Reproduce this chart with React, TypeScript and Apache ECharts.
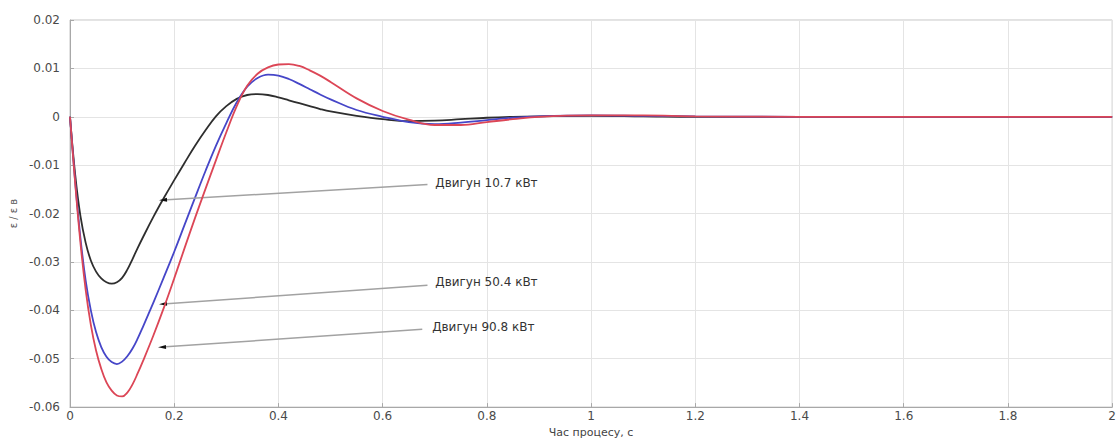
import React, { useEffect, useRef } from "react";
import * as echarts from "echarts";

// ---- Data ----
const timeS = [0, 0.01, 0.02, 0.03, 0.04, 0.05, 0.06, 0.07, 0.08, 0.09, 0.1, 0.11, 0.12, 0.13, 0.14, 0.16, 0.18, 0.2, 0.22, 0.24, 0.26, 0.28, 0.3, 0.32, 0.34, 0.36, 0.38, 0.4, 0.42, 0.44, 0.46, 0.48, 0.5, 0.55, 0.6, 0.65, 0.7, 0.75, 0.8, 0.85, 0.9, 1.0, 1.1, 1.2, 1.4, 1.6, 1.8, 2.0];

const motor10_7 = [0, -0.012, -0.0205, -0.026, -0.0297, -0.032, -0.0334, -0.0342, -0.0345, -0.0342, -0.0333, -0.0316, -0.0294, -0.0271, -0.0249, -0.0207, -0.0168, -0.0131, -0.0095, -0.006, -0.0028, 0.0001, 0.0022, 0.0037, 0.0045, 0.0047, 0.0045, 0.004, 0.0034, 0.0028, 0.0022, 0.0016, 0.0011, 0.0002, -0.0005, -0.0009, -0.0008, -0.0005, -0.0002, 0, 0.0001, 0.0002, 0.0001, 0, 0, 0, 0, 0];

const motor50_4 = [0, -0.0135, -0.025, -0.0338, -0.04, -0.0445, -0.0476, -0.0496, -0.0507, -0.0511, -0.0506, -0.0495, -0.0479, -0.0458, -0.0434, -0.0384, -0.0332, -0.0279, -0.0223, -0.0167, -0.0112, -0.006, -0.0013, 0.003, 0.0062, 0.008, 0.0087, 0.0085, 0.0078, 0.0068, 0.0057, 0.0046, 0.0036, 0.0014, 0, -0.0011, -0.0015, -0.0012, -0.0007, -0.0002, 0.0001, 0.0003, 0.0002, 0.0001, 0, 0, 0, 0];

const motor90_8 = [0, -0.0138, -0.026, -0.0357, -0.043, -0.0483, -0.0521, -0.0549, -0.0566, -0.0576, -0.0578, -0.057, -0.0553, -0.053, -0.0505, -0.0452, -0.0395, -0.0334, -0.0271, -0.0209, -0.0149, -0.009, -0.0032, 0.0022, 0.0064, 0.0089, 0.0102, 0.0108, 0.0109, 0.0105, 0.0096, 0.0085, 0.0072, 0.0038, 0.0012, -0.0006, -0.0017, -0.0017, -0.0011, -0.0005, 0, 0.0003, 0.0003, 0.0001, 0, 0, 0, 0];

const seriesNames = ["Двигун 10.7 кВт", "Двигун 50.4 кВт", "Двигун 90.8 кВт"];
const seriesColors = ["#2e2e2e", "#4646c8", "#dc4656"];

// annotation anchors in data units
const annoText = [
  [0.701, -0.0136],
  [0.701, -0.0342],
  [0.695, -0.0435],
];
const annoStart = [
  [0.686, -0.014],
  [0.686, -0.0348],
  [0.676, -0.0439],
];
const annoEnd = [
  [0.1785, -0.0172],
  [0.1785, -0.0387],
  [0.1766, -0.0476],
];

const xTickInterval = 0.2;
const yTickInterval = 0.01;

const zip = (t: number[], v: number[]) => t.map((x, i) => [x, v[i]]);

export default function App() {
  const ref = useRef<HTMLDivElement>(null);
  useEffect(() => {
    document.body.style.margin = "0";
    const chart = echarts.init(ref.current!, undefined, { renderer: "svg" });
    const datasets = [zip(timeS, motor10_7), zip(timeS, motor50_4), zip(timeS, motor90_8)];
    const font = "DejaVu Sans";
    const series = datasets.map((d, i) => ({
      name: seriesNames[i],
      type: "line",
      data: d,
      smooth: 0.4,
      showSymbol: false,
      symbol: "none",
      lineStyle: { color: seriesColors[i], width: 1.8 },
      itemStyle: { color: seriesColors[i] },
      z: 3 + i,
      markLine: {
        silent: true,
        symbol: ["none", "none"],
        label: { show: false },
        lineStyle: { color: "#a2a2a2", width: 1.5, type: "solid" },
        data: [[{ coord: annoStart[i] }, { coord: annoEnd[i] }]],
      },
      markPoint: {
        silent: true,
        data: [
          {
            coord: annoEnd[i],
            symbol: "triangle",
            symbolSize: [4, 8],
            symbolRotate: 93,
            itemStyle: { color: "#111" },
            label: { show: false },
          },
          {
            coord: annoText[i],
            symbol: "circle",
            symbolSize: 0,
            label: {
              show: true,
              position: "right",
              distance: 0,
              formatter: seriesNames[i],
              color: "#333",
              fontSize: 12,
              fontFamily: font,
            },
          },
        ],
      },
    }));
    const fmt = (v: number) => String(parseFloat(v.toFixed(2)));
    chart.setOption({
      animation: false,
      backgroundColor: "#ffffff",
      grid: {
        left: 69,
        top: 20,
        right: -3,
        bottom: 28,
        show: true,
        borderColor: "#c4c4c4",
        borderWidth: 1,
      },
      xAxis: {
        type: "value",
        min: 0,
        max: 2,
        interval: xTickInterval,
        name: "Час процесу, с",
        nameLocation: "middle",
        nameGap: 18,
        nameTextStyle: { color: "#444", fontSize: 11, fontFamily: font },
        axisLine: { show: true, onZero: false, lineStyle: { color: "#a8a8a8" } },
        axisTick: { show: true, inside: true, length: 4, lineStyle: { color: "#a8a8a8" } },
        axisLabel: { color: "#4a4a4a", fontSize: 12, fontFamily: font, margin: 3, formatter: fmt },
        splitLine: { show: true, lineStyle: { color: "#e4e4e4", width: 1 } },
      },
      yAxis: {
        type: "value",
        min: -0.06,
        max: 0.02,
        interval: yTickInterval,
        name: "ε / ε в",
        nameLocation: "middle",
        nameGap: 52,
        nameTextStyle: { color: "#555", fontSize: 10, fontFamily: font },
        axisLine: { show: true, onZero: false, lineStyle: { color: "#a8a8a8" } },
        axisTick: { show: true, inside: true, length: 4, lineStyle: { color: "#a8a8a8" } },
        axisLabel: { color: "#4a4a4a", fontSize: 12, fontFamily: font, margin: 10, formatter: fmt },
        splitLine: { show: true, lineStyle: { color: "#e4e4e4", width: 1 } },
      },
      series,
    });
    return () => chart.dispose();
  }, []);
  return (
    <div
      ref={ref}
      style={{ position: "fixed", left: 0, top: 0, width: 1119, height: 443, background: "#fff" }}
    />
  );
}
